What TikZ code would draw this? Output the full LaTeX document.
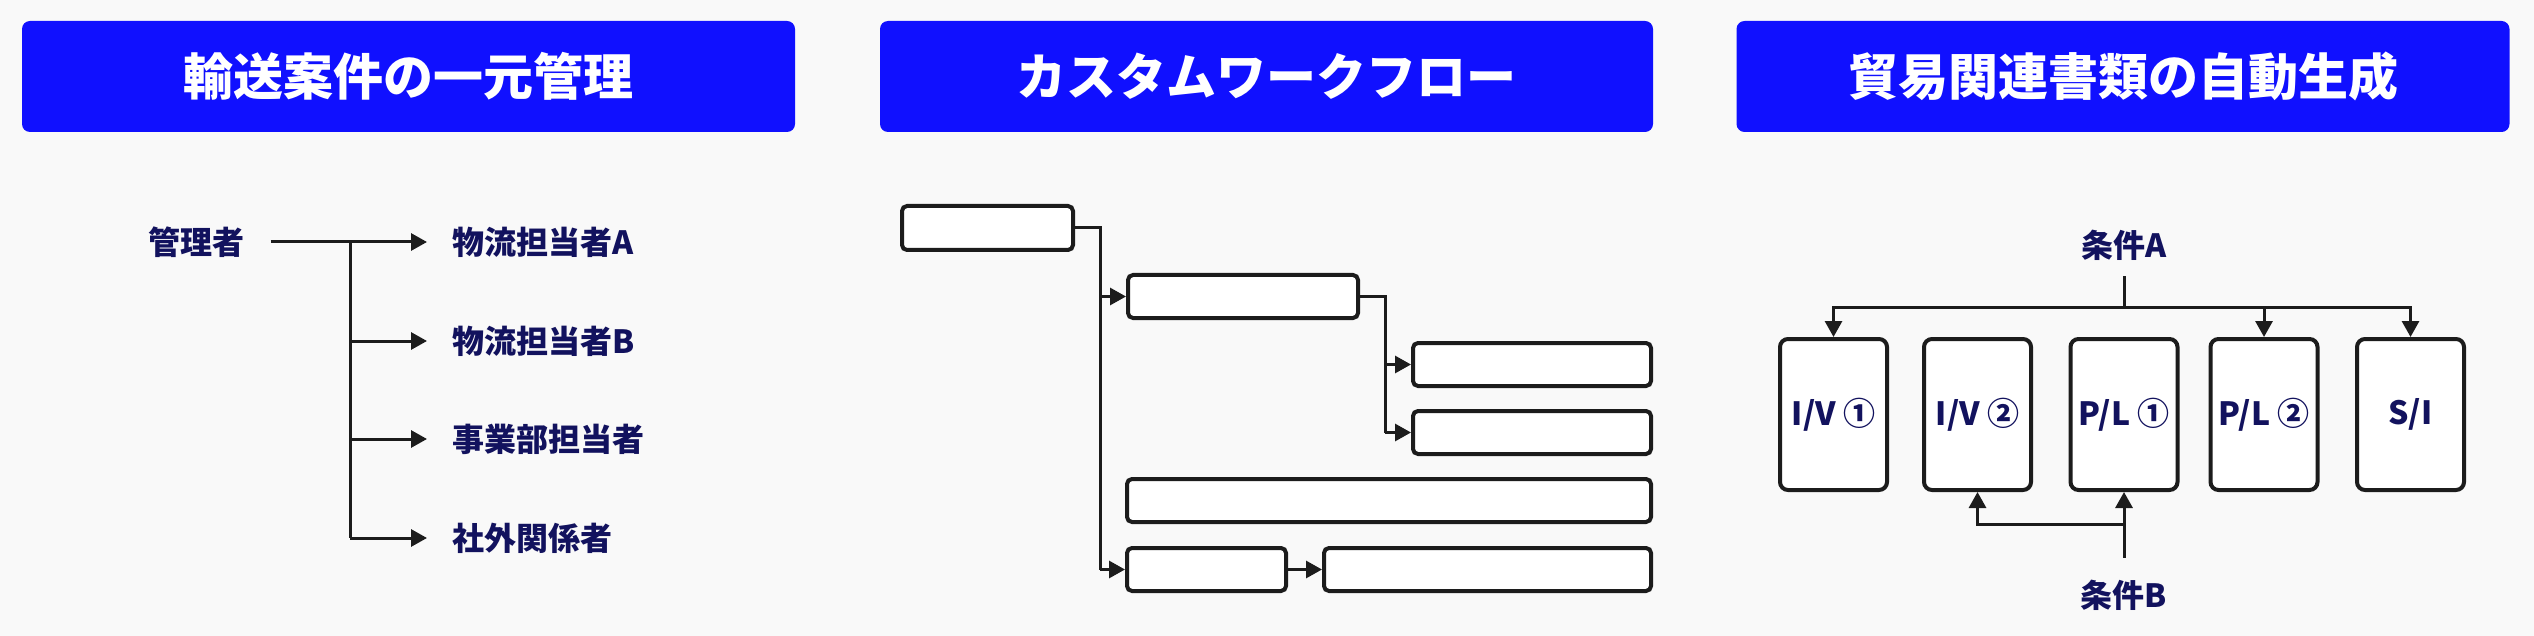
\documentclass[tikz,border=0pt]{standalone}
\usepackage{fontspec}
\newfontfamily\jpfont{Noto Sans CJK JP}
\usetikzlibrary{arrows.meta}

\definecolor{hdrblue}{HTML}{1010FF}
\definecolor{inkblue}{HTML}{12125E}
\definecolor{linegray}{HTML}{1C1C1C}
\definecolor{bggray}{HTML}{F9F9F9}

\tikzset{
  header/.style={fill=hdrblue, rounded corners=8pt, minimum width=773pt, minimum height=111pt, inner sep=0pt, text=white, font=\jpfont\bfseries\fontsize{50}{60}\selectfont},
  lbl/.style={inner sep=0pt, text=inkblue, font=\jpfont\bfseries\fontsize{32}{38}\selectfont},
  wbox/.style={draw=linegray, line width=4pt, rounded corners=5pt, fill=white, inner sep=0pt},
  docbox/.style={wbox, rounded corners=8pt, minimum width=107pt, minimum height=151pt, text=inkblue, font=\jpfont\bfseries\fontsize{32}{38}\selectfont},
  conn/.style={draw=linegray, line width=3pt},
  arr/.style={conn, -{Triangle[length=16pt,width=17pt]}},
}

\begin{document}
\begin{tikzpicture}[x=1pt,y=1pt,yscale=-1,xscale=1]
\useasboundingbox (0,0) rectangle (2534,636);
\fill[bggray] (0,0) rectangle (2534,636);

%Headers
\node (hdr1) [header] at (408.5,76.5) {輸送案件の一元管理};
\node (hdr2) [header] at (1266.5,76.5) {カスタムワークフロー};
\node (hdr3) [header] at (2123,76.5) {貿易関連書類の自動生成};

% Text Node
\node (mgr) [lbl] at (196.5,242) {管理者};
% Text Node
\node (lblA) [lbl, anchor=west] at (452,242) {物流担当者A};
% Text Node
\node (lblB) [lbl, anchor=west] at (452,341) {物流担当者B};
% Text Node
\node (lblC) [lbl, anchor=west] at (452,439) {事業部担当者};
% Text Node
\node (lblD) [lbl, anchor=west] at (452,538) {社外関係者};

%Straight Lines
\coordinate (trunk) at (350,242);
\draw[arr] ([xshift=26pt]mgr.east) -- ([xshift=-25pt]lblA.west);
\draw[conn] (trunk) -- (trunk |- lblD.west);
\draw[arr] (trunk |- lblB.west) -- ([xshift=-25pt]lblB.west);
\draw[arr] (trunk |- lblC.west) -- ([xshift=-25pt]lblC.west);
\draw[arr] (trunk |- lblD.west) -- ([xshift=-25pt]lblD.west);

%Shape: Rectangle
\node (wf1) [wbox, minimum width=171pt, minimum height=44pt] at (987.5,228) {};
\node (wf2) [wbox, minimum width=230pt, minimum height=43pt] at (1243,296.5) {};
\node (wf3) [wbox, minimum width=238pt, minimum height=43pt] at (1532,364.5) {};
\node (wf4) [wbox, minimum width=238pt, minimum height=43pt] at (1532,432.5) {};
\node (wf5) [wbox, minimum width=524pt, minimum height=43pt] at (1389,500.5) {};
\node (wf6) [wbox, minimum width=159pt, minimum height=43pt] at (1206.5,569.5) {};
\node (wf7) [wbox, minimum width=327pt, minimum height=43pt] at (1487.5,569.5) {};

%Straight Lines
\coordinate (j1) at (1100,228);
\coordinate (j2) at (1385,296.5);
\draw[conn] (wf1.east) -- (j1) -- (j1 |- wf6.west);
\draw[arr] (j1 |- wf2.west) -- (wf2.west);
\draw[arr] (j1 |- wf6.west) -- (wf6.west);
\draw[conn] (wf2.east) -- (j2) -- (j2 |- wf4.west);
\draw[arr] (j2 |- wf3.west) -- (wf3.west);
\draw[arr] (j2 |- wf4.west) -- (wf4.west);
\draw[arr] (wf6.east) -- (wf7.west);

%Shape: Rectangle
\node (doc1) [docbox] at (1833.5,414.5) {I/V ①};
\node (doc2) [docbox] at (1977.5,414.5) {I/V ②};
\node (doc3) [docbox] at (2124,414.5) {P/L ①};
\node (doc4) [docbox] at (2264,414.5) {P/L ②};
\node (doc5) [docbox] at (2410.5,414.5) {S/I};

% Text Node
\node (condA) [lbl] at (2124,245) {条件A};
% Text Node
\node (condB) [lbl] at (2124,595) {条件B};

%Straight Lines
\coordinate (ja) at (2124,307);
\coordinate (jb) at (2124,524);
\draw[conn] ([yshift=16pt]condA.south) -- (ja);
\draw[arr] (ja) -| (doc1.north);
\draw[arr] (ja) -| (doc4.north);
\draw[arr] (ja) -| (doc5.north);
\draw[arr] ([yshift=-22pt]condB.north) -- (doc3.south);
\draw[arr] (jb) -| (doc2.south);

\end{tikzpicture}
\end{document}
